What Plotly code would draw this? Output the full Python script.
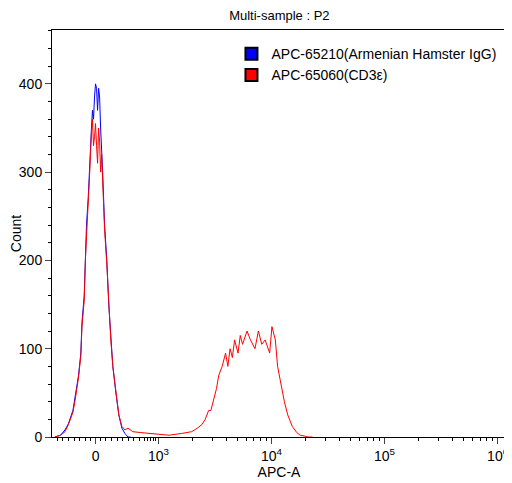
import math
import plotly.graph_objects as go

# x in display units: 0 -> value 0, each decade above 1e3 is one unit, 1e3 sits at 0.556
blue_x = [-0.36, -0.31, -0.27, -0.24, -0.2, -0.18, -0.15, -0.13, -0.12, -0.1, -0.09, -0.08, -0.065, -0.055,
          -0.045, -0.036, -0.027, -0.018, -0.009, 0.0, 0.009, 0.018, 0.027, 0.036, 0.045, 0.054, 0.063,
          0.08, 0.1, 0.117, 0.135, 0.153, 0.18, 0.206, 0.233, 0.26, 0.287, 0.31]
blue_y = [0, 2, 8, 15, 30, 45, 70, 95, 130, 160, 210, 240, 270, 300, 340, 350, 370, 360, 385, 400, 395, 370,
          395, 385, 350, 330, 300, 240, 200, 150, 110, 80, 50, 25, 10, 4, 0, 0]
red_x = [-0.36, -0.31, -0.27, -0.24, -0.2, -0.18, -0.15, -0.13, -0.12, -0.1, -0.09, -0.08, -0.065, -0.055,
         -0.045, -0.036, -0.027, -0.018, -0.009, 0.0, 0.009, 0.018, 0.027, 0.036, 0.045, 0.054, 0.063,
         0.08, 0.1, 0.117, 0.135, 0.153, 0.18, 0.206, 0.233, 0.26, 0.287, 0.33, 0.4, 0.49, 0.556, 0.65,
         0.76, 0.85, 0.9, 0.94, 0.97, 1.0, 1.02, 1.04, 1.07, 1.09, 1.12, 1.15, 1.17, 1.19, 1.21, 1.23, 1.26,
         1.28, 1.3, 1.34, 1.37, 1.41, 1.44, 1.47, 1.5, 1.54, 1.56, 1.59, 1.61, 1.64, 1.67, 1.7, 1.74, 1.78,
         1.81, 1.85, 1.88, 1.92]
red_y = [0, 2, 6, 14, 28, 42, 68, 92, 125, 155, 200, 235, 265, 290, 330, 345, 360, 330, 340, 355, 330, 310,
         350, 335, 300, 320, 290, 235, 195, 150, 110, 80, 50, 25, 12, 8, 10, 6, 5, 4, 3, 2, 4, 6, 10, 14, 20,
         30, 30, 40, 55, 70, 80, 95, 80, 100, 90, 110, 95, 115, 105, 120, 110, 100, 120, 105, 110, 95, 125,
         110, 80, 60, 40, 25, 12, 5, 2, 1, 0, 0]

tick_vals = [0, 0.556, 1.556, 2.556, 3.556]
tick_text = ['0', '10<sup>3</sup>', '10<sup>4</sup>', '10<sup>5</sup>', '10<sup>6</sup>']
minor_x = [-0.34, -0.29, -0.24, -0.19, -0.14, -0.09, -0.045, 0.045, 0.09, 0.14, 0.19, 0.24, 0.29, 0.34, 0.39,
           0.43, 0.46, 0.49, 0.51, 0.53]
minor_x += [0.556 + d + math.log10(k) for d in range(3) for k in range(2, 10)]

fig = go.Figure()
fig.add_trace(go.Scatter(x=blue_x, y=blue_y, mode='lines', showlegend=False,
                         line=dict(color='#0000ff', width=1)))
fig.add_trace(go.Scatter(x=red_x, y=red_y, mode='lines', showlegend=False,
                         line=dict(color='#ff0000', width=1)))
for name, col in [('APC-65210(Armenian Hamster IgG)', '#0000ff'), ('APC-65060(CD3ε)', '#ff0000')]:
    fig.add_trace(go.Scatter(x=[None], y=[None], mode='markers', name=name,
                             marker=dict(symbol='square', size=14, color=col, line=dict(color='black', width=1))))

fig.update_layout(
    width=512, height=483,
    margin=dict(l=44, r=14, t=22, b=54, autoexpand=False),
    paper_bgcolor='white', plot_bgcolor='white',
    font=dict(family='Liberation Sans, Arial', size=13, color='black'),
    title=dict(text='Multi-sample : P2', x=0.53, xanchor='center', y=0.995, yanchor='top', font=dict(size=13)),
    showlegend=True,
    legend=dict(x=0.99, y=0.98, xanchor='right', yanchor='top', bgcolor='rgba(0,0,0,0)',
                font=dict(size=14), tracegroupgap=0, itemsizing='constant'),
    xaxis=dict(range=[-0.385, 3.63], tickvals=tick_vals, ticktext=tick_text, ticks='outside',
               ticklen=6, showgrid=False, zeroline=False, showline=True, linecolor='black', mirror=True,
               automargin=False, tickfont=dict(size=14),
               minor=dict(tickvals=minor_x, ticks='outside', ticklen=3, tickcolor='black', showgrid=False),
               title=dict(text='APC-A', standoff=0, font=dict(size=14))),
    yaxis=dict(range=[0, 461], tickvals=[0, 100, 200, 300, 400], ticks='outside', ticklen=6,
               showgrid=False, zeroline=False, showline=True, linecolor='black', mirror=True,
               automargin=False, tickfont=dict(size=14),
               minor=dict(dtick=20, ticks='outside', ticklen=3, tickcolor='black'),
               title=dict(text='Count', standoff=6, font=dict(size=14))),
)
fig.write_html('out.html')
